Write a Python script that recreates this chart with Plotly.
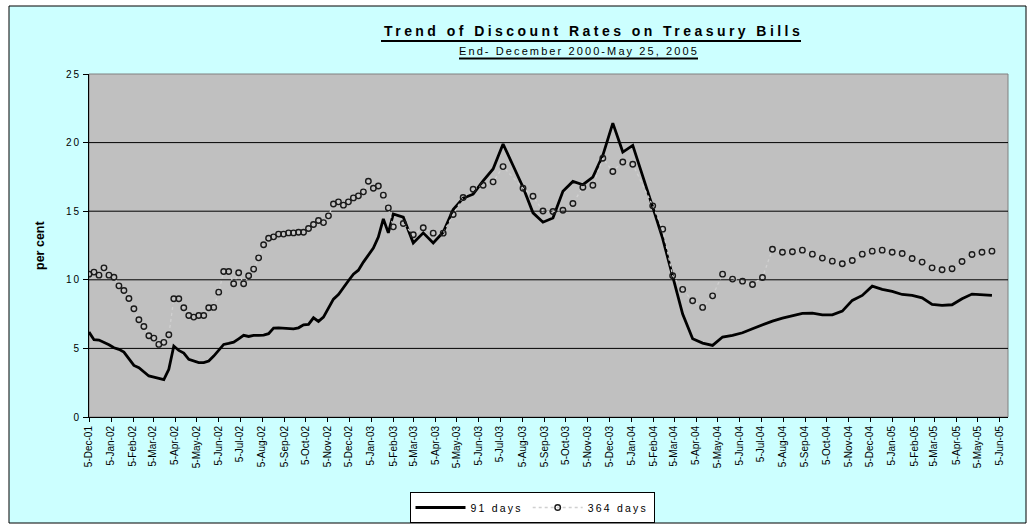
import plotly.graph_objects as go

# ---------------- data ----------------
dates = [
    "2001-12-05", "2001-12-12", "2001-12-19", "2001-12-26",
    "2002-01-02", "2002-01-09", "2002-01-16", "2002-01-23", "2002-01-30",
    "2002-02-06", "2002-02-13", "2002-02-20", "2002-02-27",
    "2002-03-06", "2002-03-13", "2002-03-20", "2002-03-27",
    "2002-04-03", "2002-04-10", "2002-04-17", "2002-04-24",
    "2002-05-01", "2002-05-08", "2002-05-15", "2002-05-22", "2002-05-29",
    "2002-06-05", "2002-06-12", "2002-06-19", "2002-06-26",
    "2002-07-03", "2002-07-10", "2002-07-17", "2002-07-24", "2002-07-31",
    "2002-08-07", "2002-08-14", "2002-08-21", "2002-08-28",
    "2002-09-04", "2002-09-11", "2002-09-18", "2002-09-25",
    "2002-10-02", "2002-10-09", "2002-10-16", "2002-10-23", "2002-10-30",
    "2002-11-06", "2002-11-13", "2002-11-20", "2002-11-27",
    "2002-12-04", "2002-12-11", "2002-12-18", "2002-12-25",
    "2003-01-01", "2003-01-08", "2003-01-15", "2003-01-22", "2003-01-29",
    "2003-02-05", "2003-02-12", "2003-02-19", "2003-02-26",
    "2003-03-05", "2003-03-12", "2003-03-19", "2003-03-26",
    "2003-04-02", "2003-04-09", "2003-04-16", "2003-04-23", "2003-04-30",
    "2003-05-07", "2003-05-14", "2003-05-21", "2003-05-28",
    "2003-06-04", "2003-06-11", "2003-06-18", "2003-06-25",
    "2003-07-02", "2003-07-09", "2003-07-16", "2003-07-23", "2003-07-30",
    "2003-08-06", "2003-08-13", "2003-08-20", "2003-08-27",
    "2003-09-03", "2003-09-10", "2003-09-17", "2003-09-24",
    "2003-10-01", "2003-10-08", "2003-10-15", "2003-10-22", "2003-10-29",
    "2003-11-05", "2003-11-12", "2003-11-19", "2003-11-26",
    "2003-12-03", "2003-12-10", "2003-12-17", "2003-12-24", "2003-12-31",
    "2004-01-07", "2004-01-14", "2004-01-21", "2004-01-28",
    "2004-02-04", "2004-02-11", "2004-02-18", "2004-02-25",
    "2004-03-03", "2004-03-10", "2004-03-17", "2004-03-24", "2004-03-31",
    "2004-04-07", "2004-04-14", "2004-04-21", "2004-04-28",
    "2004-05-05", "2004-05-12", "2004-05-19", "2004-05-26",
    "2004-06-02", "2004-06-09", "2004-06-16", "2004-06-23", "2004-06-30",
    "2004-07-07", "2004-07-14", "2004-07-21", "2004-07-28",
    "2004-08-04", "2004-08-11", "2004-08-18", "2004-08-25",
    "2004-09-01", "2004-09-08", "2004-09-15", "2004-09-22", "2004-09-29",
    "2004-10-06", "2004-10-13", "2004-10-20", "2004-10-27",
    "2004-11-03", "2004-11-10", "2004-11-17", "2004-11-24",
    "2004-12-01", "2004-12-08", "2004-12-15", "2004-12-22", "2004-12-29",
    "2005-01-05", "2005-01-12", "2005-01-19", "2005-01-26",
    "2005-02-02", "2005-02-09", "2005-02-16", "2005-02-23",
    "2005-03-02", "2005-03-09", "2005-03-16", "2005-03-23", "2005-03-30",
    "2005-04-06", "2005-04-13", "2005-04-20", "2005-04-27",
    "2005-05-04", "2005-05-11", "2005-05-18", "2005-05-25",
]

N = None
rate_91_days = [
    6.19, 5.63, 5.61, 5.46, 5.27, 5.05, 4.93, 4.73, 4.25, 3.76,
    3.59, 3.28, 2.99, 2.91, 2.79, 2.72, 3.47, 5.17, 4.85, 4.66,
    4.20, 4.08, 3.96, 3.96, 4.08, 4.44, 4.90, 5.29, 5.36, 5.46,
    5.70, 5.95, 5.87, 5.95, 5.95, 5.97, 6.07, 6.48, 6.50, 6.48,
    6.46, 6.43, 6.50, 6.72, 6.75, 7.23, 6.97, 7.28, 7.94, 8.59,
    8.93, 9.39, 9.93, 10.41, 10.70, 11.29, 11.82, 12.31, 13.11, 14.44,
    13.42, 14.80, 14.68, 14.56, N, 12.69, N, 13.42, N, 12.69,
    N, 13.47, N, 15.12, N, 15.95, N, 16.24, N, 17.21,
    N, 18.08, N, 19.90, N, 18.33, N, 16.75, N, 14.88,
    N, 14.20, N, 14.50, N, 16.45, N, 17.17, N, 16.93,
    N, 17.49, N, 19.07, N, 21.42, N, 19.31, N, 19.80,
    N, 17.60, N, 15.30, N, 13.00, N, 10.25, N, 7.50,
    N, 5.70, N, 5.39, N, 5.22, N, 5.83, N, 5.95,
    N, 6.14, N, 6.43, N, 6.72, N, 6.99, N, 7.20,
    N, 7.40, N, 7.55, N, 7.57, N, 7.45, N, 7.45,
    N, 7.72, N, 8.50, N, 8.86, N, 9.54, N, 9.30,
    N, 9.15, N, 8.93, N, 8.86, N, 8.69, N, 8.20,
    N, 8.13, N, 8.18, N, 8.62, N, 8.96, N, 8.91,
    N, 8.86,
]

rate_364_days = [
    10.41, 10.56, 10.34, 10.87, 10.34, 10.19, 9.56, 9.22, 8.64, 7.89,
    7.09, 6.60, 5.92, 5.75, 5.29, 5.44, 5.99, 8.62, 8.62, 7.96,
    7.40, 7.28, 7.40, 7.40, 7.96, 7.99, 9.10, 10.61, 10.61, 9.71,
    10.51, 9.71, 10.29, 10.78, 11.60, 12.55, 13.03, 13.13, 13.33, 13.33,
    13.42, 13.42, 13.47, 13.47, 13.74, 14.03, 14.32, 14.17, 14.66, 15.53,
    15.68, 15.44, 15.68, 15.97, 16.12, 16.41, 17.18, 16.67, 16.84, 16.17,
    15.24, 13.86, N, 14.10, N, 13.28, N, 13.79, N, 13.40,
    N, 13.40, N, 14.76, N, 16.00, N, 16.60, N, 16.89,
    N, 17.14, N, 18.25, N, N, N, 16.67, N, 16.09,
    N, 15.02, N, 14.98, N, 15.07, N, 15.56, N, 16.75,
    N, 16.89, N, 18.86, N, 17.89, N, 18.59, N, 18.42,
    N, N, N, 15.39, N, 13.69, N, 10.29, N, 9.30,
    N, 8.47, N, 7.99, N, 8.83, N, 10.41, N, 10.05,
    N, 9.90, N, 9.66, N, 10.17, N, 12.23, N, 12.01,
    N, 12.04, N, 12.16, N, 11.87, N, 11.58, N, 11.36,
    N, 11.17, N, 11.41, N, 11.87, N, 12.09, N, 12.16,
    N, 12.01, N, 11.92, N, 11.55, N, 11.29, N, 10.87,
    N, 10.73, N, 10.80, N, 11.33, N, 11.84, N, 12.01,
    N, 12.09,
]

y_tick_values = [0, 5, 10, 15, 20, 25]
y_tick_labels = ["0", "5", "10", "15", "20", "25"]
series_names = ["91 days", "364 days"]
title_text = "Trend of Discount Rates on Treasury Bills"
subtitle_text = "End- December 2000-May 25, 2005"
y_title = "per cent"

# ---------------- layout geometry (pixels) ----------------
W, H = 1030, 529
PL, PR, PT, PB = 89, 1008, 74, 417  # plot area edges


def fx(px):
    return (px - PL) / (PR - PL)


def fy(py):
    return (PB - py) / (PB - PT)


def spaced(s, px):
    return '<span style="letter-spacing:%spx">%s</span>' % (px, s)


FONT = "Liberation Sans, Arial, sans-serif"

fig = go.Figure()
fig.add_trace(go.Scatter(
    x=dates, y=rate_91_days, name=spaced(series_names[0], 2.2),
    mode="lines", connectgaps=True,
    line=dict(color="black", width=2.8),
))
fig.add_trace(go.Scatter(
    x=dates, y=rate_364_days, name=spaced(series_names[1], 2.2),
    mode="lines+markers", connectgaps=True,
    line=dict(color="#d0d0d0", width=1.3, dash="dot"),
    marker=dict(symbol="circle-open", size=5.5, color="#1a1a1a",
                line=dict(width=1.4, color="#1a1a1a")),
))

shapes = [
    # chart area frame
    dict(type="rect", xref="paper", yref="paper", layer="below",
         x0=fx(9), x1=fx(1026), y0=fy(523), y1=fy(6),
         fillcolor="#CCFFFF", line=dict(color="black", width=1)),
    # plot area
    dict(type="rect", xref="paper", yref="paper", layer="below",
         x0=0, x1=1, y0=0, y1=1,
         fillcolor="#C0C0C0", line=dict(color="#808080", width=1)),
    # title underlines
    dict(type="line", xref="paper", yref="paper",
         x0=fx(381), x1=fx(801), y0=fy(41), y1=fy(41),
         line=dict(color="black", width=2)),
    dict(type="line", xref="paper", yref="paper",
         x0=fx(459), x1=fx(698), y0=fy(58.5), y1=fy(58.5),
         line=dict(color="black", width=2)),
]
for v in y_tick_values[1:-1]:
    shapes.append(dict(type="line", xref="paper", yref="y", layer="below",
                       x0=0, x1=1, y0=v, y1=v,
                       line=dict(color="black", width=1)))

annotations = [
    dict(text="<b>" + spaced(title_text, 3.45) + "</b>", x=fx(593), y=fy(31),
         xref="paper", yref="paper", showarrow=False, xanchor="center",
         yanchor="middle", font=dict(family=FONT, size=14, color="black")),
    dict(text=spaced(subtitle_text, 2.1), x=fx(579), y=fy(51),
         xref="paper", yref="paper", showarrow=False, xanchor="center",
         yanchor="middle", font=dict(family=FONT, size=11, color="black")),
    dict(text="<b>" + y_title + "</b>", x=fx(40), y=fy(246),
         xref="paper", yref="paper", showarrow=False, xanchor="center",
         yanchor="middle", textangle=-90,
         font=dict(family=FONT, size=12.5, color="black")),
]

fig.update_layout(
    width=W, height=H,
    margin=dict(l=PL, r=W - PR, t=PT, b=H - PB, pad=0, autoexpand=False),
    paper_bgcolor="white", plot_bgcolor="rgba(0,0,0,0)",
    font=dict(family=FONT, color="black"),
    showlegend=True,
    legend=dict(orientation="h", x=fx(532), y=fy(507.5), xanchor="center",
                yanchor="middle", bgcolor="white", bordercolor="black",
                borderwidth=1, font=dict(family=FONT, size=10.5),
                itemwidth=50, tracegroupgap=0),
    shapes=shapes,
    annotations=annotations,
    xaxis=dict(
        type="date", range=["2001-12-05", "2005-06-16 12:00"],
        tick0="2001-12-05", dtick="M1", tickformat="%-d-%b-%y",
        tickangle=-90, ticks="outside", ticklen=4, tickcolor="black",
        showline=True, linecolor="black", linewidth=1,
        showgrid=False, zeroline=False,
        tickfont=dict(family=FONT, size=10, color="black"),
    ),
    yaxis=dict(
        range=[0, 25], tickmode="array", tickvals=y_tick_values,
        ticktext=[spaced(t, 2) for t in y_tick_labels],
        ticks="outside", ticklen=5, tickcolor="black",
        showline=True, linecolor="black", linewidth=1,
        showgrid=False, zeroline=False,
        tickfont=dict(family=FONT, size=10, color="black"),
    ),
)

fig.write_html(
    "out.html",
    config={"displayModeBar": False},
    post_script="document.body.style.margin='0px';",
)
